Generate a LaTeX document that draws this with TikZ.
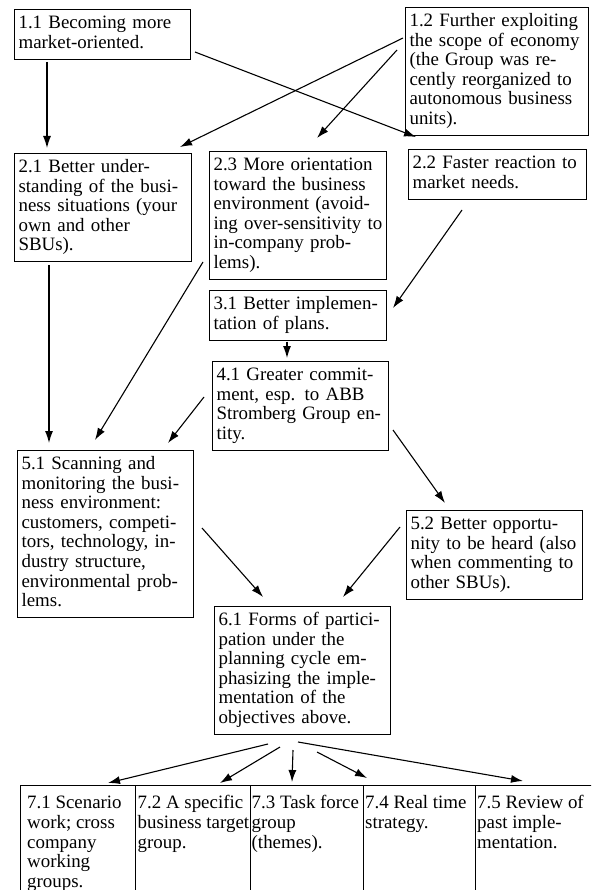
\documentclass[tikz,border=0pt]{standalone}
\usepackage{fontspec}
\setmainfont{Liberation Serif}
\usetikzlibrary{arrows.meta}
\newcommand\boxlines[1]{\noindent\begin{tabular}{@{}l@{}}#1\end{tabular}}
\begin{document}
\begin{tikzpicture}[x=1pt,y=-1pt,
  box/.style={draw,line width=1.1pt,anchor=north west,align=left,inner xsep=4pt,inner ysep=5.2pt,font=\fontsize{18.9}{19.6}\selectfont},
  lbl/.style={anchor=north west,align=left,inner sep=0pt,font=\fontsize{18.9}{19.6}\selectfont},
  cell/.style={draw,line width=1.1pt,anchor=north west,inner sep=0pt,minimum height=130pt},
  arr/.style={line width=1.1pt,-{Latex[length=12pt,width=8pt]}}]
\useasboundingbox (0,0) rectangle (591,890);
\clip (0,0) rectangle (591,890);

\node[box,text width=168pt] (b11) at (14,9) {\boxlines{1.1 Becoming more\\market-oriented.}};
\node[box,text width=175pt] (b12) at (405,7) {\boxlines{1.2 Further exploiting\\the scope of economy\\(the Group was re-\\cently reorganized to\\autonomous business\\units).}};
\node[box,text width=169pt] (b21) at (14,153) {\boxlines{2.1 Better under-\\standing of the busi-\\ness situations (your\\own and other\\SBUs).}};
\node[box,text width=169pt] (b23) at (209,151) {\boxlines{2.3 More orientation\\toward the business\\environment (avoid-\\ing over-sensitivity to\\in-company prob-\\lems).}};
\node[box,text width=170pt] (b22) at (408,149) {\boxlines{2.2 Faster reaction to\\market needs.}};
\node[box,text width=169pt] (b31) at (209,290) {\boxlines{3.1 Better implemen-\\tation of plans.}};
\node[box,text width=168pt] (b41) at (212,361) {\boxlines{4.1 Greater commit-\\ment, esp. to ABB\\Stromberg Group en-\\tity.}};
\node[box,text width=168pt] (b51) at (17,450) {\boxlines{5.1 Scanning and\\monitoring the busi-\\ness environment:\\customers, competi-\\tors, technology, in-\\dustry structure,\\environmental prob-\\lems.}};
\node[box,text width=168pt] (b52) at (406,510) {\boxlines{5.2 Better opportu-\\nity to be heard (also\\when commenting to\\other SBUs).}};
\node[box,text width=168pt] (b61) at (214,606) {\boxlines{6.1 Forms of partici-\\pation under the\\planning cycle em-\\phasizing the imple-\\mentation of the\\objectives above.}};

\node[cell,minimum width=115pt] (b71) at (20,785) {};
\node[cell,minimum width=114.5pt] (b72) at (135,785) {};
\node[cell,minimum width=113.5pt] (b73) at (249.5,785) {};
\node[cell,minimum width=112pt] (b74) at (363,785) {};
\node[cell,minimum width=130pt] (b75) at (475,785) {};
\node[lbl] (t71) at ([shift={(7,10)}]b71.north west) {\boxlines{7.1 Scenario\\work; cross\\company\\working\\groups.}};
\node[lbl] (t72) at ([shift={(2.5,10)}]b72.north west) {\boxlines{7.2 A specific\\business target\\group.}};
\node[lbl] (t73) at ([shift={(2,10)}]b73.north west) {\boxlines{7.3 Task force\\group\\(themes).}};
\node[lbl] (t74) at ([shift={(2,10)}]b74.north west) {\boxlines{7.4 Real time\\strategy.}};
\node[lbl] (t75) at ([shift={(2,10)}]b75.north west) {\boxlines{7.5 Review of\\past imple-\\mentation.}};

\draw[arr] ([shift={(33,53)}]b11.north west) -- ([shift={(33,-5)}]b21.north west);
\draw[arr] ([shift={(181,43)}]b11.north west) -- ([shift={(8,-12)}]b22.north west);
\draw[arr] ([shift={(-2,31)}]b12.north west) -- ([shift={(166,-6)}]b21.north west);
\draw[arr] ([shift={(-8,43)}]b12.north west) -- ([shift={(108,-13)}]b23.north west);
\draw[arr] ([shift={(35,112)}]b21.north west) -- ([shift={(32,-7)}]b51.north west);
\draw[arr] ([shift={(-6,111)}]b23.north west) -- ([shift={(78,-10)}]b51.north west);
\draw[arr] ([shift={(54,61)}]b22.north west) -- ([shift={(184,18)}]b31.north west);
\draw[arr] ([shift={(78,51.5)}]b31.north west) -- ([shift={(75,-3)}]b41.north west);
\draw[arr] ([shift={(-8,36)}]b41.north west) -- ([shift={(151,-7)}]b51.north west);
\draw[arr] ([shift={(181,69)}]b41.north west) -- ([shift={(39,-7)}]b52.north west);
\draw[arr] ([shift={(185,78)}]b51.north west) -- ([shift={(49,-9)}]b61.north west);
\draw[arr] ([shift={(-6,17)}]b52.north west) -- ([shift={(129,-9)}]b61.north west);
\draw[arr] ([shift={(54,138)}]b61.north west) -- ([shift={(88,-2)}]b71.north west);
\draw[arr] ([shift={(66,141)}]b61.north west) -- ([shift={(85,-2)}]b72.north west);
\draw[arr] ([shift={(79,144)}]b61.north west) -- ([shift={(42.5,-3)}]b73.north west);
\draw[arr] ([shift={(103,146)}]b61.north west) -- ([shift={(4,-7)}]b74.north west);
\draw[arr] ([shift={(84,136)}]b61.north west) -- ([shift={(48,-4)}]b75.north west);
\end{tikzpicture}
\end{document}
